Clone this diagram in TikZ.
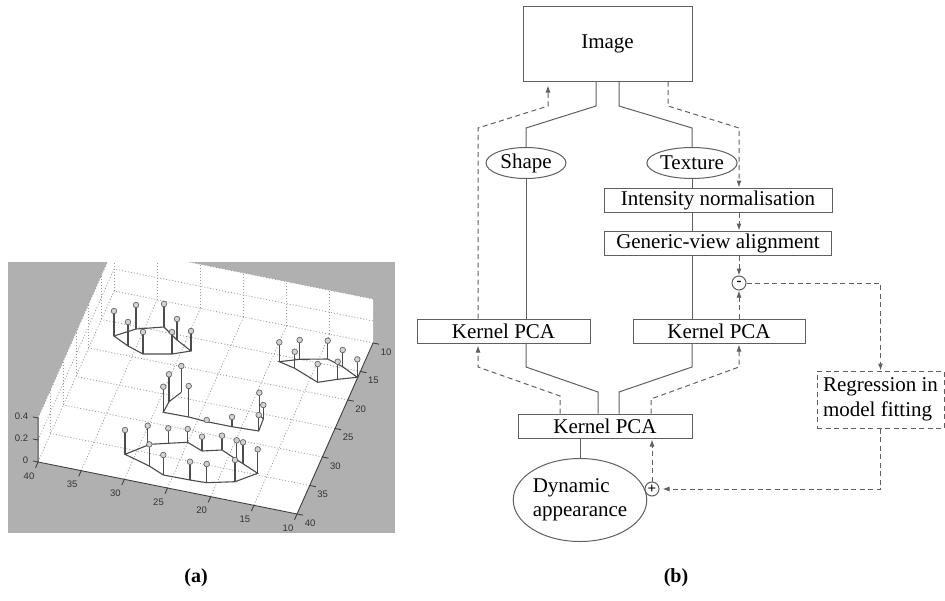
\documentclass[tikz,border=0pt]{standalone}
\usepackage{fontspec}
\setmainfont{Liberation Serif}
\setsansfont{Liberation Sans}
\usetikzlibrary{arrows.meta,positioning,shapes.geometric}

\definecolor{plotgray}{RGB}{176,176,176}
\definecolor{linegray}{RGB}{95,95,95}

\begin{document}
\begin{tikzpicture}[x=1pt, y=-1pt,
            >={Latex[length=7pt,width=5pt]},
            line width=1pt,
            font=\fontsize{21}{24.5}\selectfont,
            box/.style={draw=linegray, rectangle, inner sep=0pt},
            blob/.style={draw=linegray, ellipse, inner sep=0pt},
            sum/.style={draw=linegray, circle, minimum size=14pt, inner sep=0pt,
                        font=\fontsize{15}{15}\selectfont\bfseries},
            flow/.style={draw=linegray},
            fb/.style={draw=linegray, dash pattern=on 5pt off 3.5pt},
            grid3d/.style={draw=gray!80, line width=0.8pt, dash pattern=on 1pt off 2pt},
            axis/.style={draw=black!75, line width=0.9pt},
            floorline/.style={draw=black!70, line width=1.1pt},
            stem/.style={draw=black!70, line width=1.1pt},
            ball/.style={draw=black!60, fill=gray!35, line width=0.7pt},
            tick/.style={font=\sffamily\fontsize{9.5}{10}\selectfont, text=black!80, inner sep=0pt},
            caption/.style={font=\bfseries\fontsize{20}{22}\selectfont}]

    \useasboundingbox (0,0) rectangle (945,600);

    % (a) plot
    \fill[plotgray] (8,262) rectangle (395,533);
    \begin{scope}
        \clip (8,262) rectangle (395,533);
        \begin{scope}[shift={(484.7,303.3)},
                      x={(-8.633pt,1.733pt)}, y={(-2.533pt,-5.7pt)}, z={(0pt,110pt)}]
            \fill[white] (40,40,0) -- (10,40,0) -- (10,10,0) -- (10,10,0.4)
                         -- (40,10,0.4) -- (40,40,0.4) -- cycle;
            \foreach \v in {15,20,...,35} {
                \draw[grid3d] (\v,10,0) -- (\v,40,0);
                \draw[grid3d] (10,\v,0) -- (40,\v,0);
                \draw[grid3d] (\v,10,0) -- (\v,10,0.4);
                \draw[grid3d] (40,\v,0) -- (40,\v,0.4);
            }
            \draw[grid3d] (10,10,0) -- (40,10,0) -- (40,40,0);
            \draw[grid3d] (10,10,0.2) -- (40,10,0.2) -- (40,40,0.2);
            \draw[grid3d] (10,10,0.4) -- (40,10,0.4) -- (40,40,0.4);
            \draw[grid3d] (40,10,0) -- (40,10,0.4);

            \draw[axis] (40,40,0.4) -- (40,40,0) -- (10,40,0) -- (10,10,0);
            \foreach \v in {10,15,...,40} {
                \draw[axis] (\v,40,0) -- (\v,41,0);
                \node[tick] at (\v+0.3,42.55,0) {\v};
                \draw[axis] (10,\v,0) -- (9.3,\v,0);
                \node[tick] at (8.19,\v+1.03,0) {\v};
            }
            \foreach \z in {0,0.2,0.4} {
                \draw[axis] (40,40,\z) -- (40.6,40,\z);
                \node[tick, anchor=east] at (41.1,40,\z) {\z};
            }
        \end{scope}

        \draw[floorline] (114,336) -- (136,329) -- (164,327) -- (177,340) -- (191,351)
                         -- (172,354) -- (143,354) -- (128,346) -- cycle;
        \draw[floorline] (279.3,361.7) -- (299.7,359.3) -- (327.7,359) -- (342.7,366.7)
                         -- (357.3,377.3) -- (337.7,379.3) -- (317.7,382.3) -- (294.7,368.3) -- cycle;
        \draw[floorline] (181.3,392.3) -- (169,401.7) -- (163.3,412.3) -- (188.7,417) -- (206.7,421.7)
                         -- (232,426.7) -- (258.7,431) -- (263.3,419) -- (259.3,415);
        \draw[floorline] (125,454.3) -- (150,444.3) -- (168.3,443.3) -- (187.7,442.3) -- (202,451)
                         -- (222,450) -- (236.7,459.7) -- (243,463.7) -- (257.7,473.3)
                         -- (235,481.7) -- (206.7,482.7) -- (190,480) -- (163.3,475)
                         -- (149.3,466) -- cycle;

        \foreach \x/\t/\b in {114/311/336, 136/305/329, 164/304/327, 177/319/340,
                              191/331/351, 172/332/354, 143/332/354, 128/322/346,
                              279.3/342.3/361.7, 294.7/351.7/368.3, 299.7/340/359.3, 317.7/364/382.3,
                              327.7/340.7/359, 337.7/361.7/379.3, 342.7/350/366.7, 357.3/359.3/377.3,
                              163.3/386.7/412.3, 169/374.3/401.7, 181.3/366/392.3, 188.7/386/417,
                              206.7/420/421.7, 232/417/426.7, 259.3/392.7/415, 263.3/405/419,
                              258.7/415/431,
                              125/430/454.3, 147.7/425.7/444.3, 168.3/428.3/443.3, 187.7/429/442.3,
                              202/436.7/451, 222/435.7/450, 236.7/440.3/459.7, 243/442.3/463.7,
                              257.7/449.3/473.3, 149.3/444.3/466, 163.3/455/475, 190/461.7/480,
                              206.7/464/482.7, 235/460/481.7} {
            \draw[stem] (\x,\b) -- (\x,\t);
            \path[ball] (\x,\t) circle (2.8);
        }
    \end{scope}

    % (b) diagram
    \node[box, minimum width=169pt, minimum height=75pt] (image) at (607.5,43.5) {Image};
    \node[blob, minimum width=80pt, minimum height=31pt] (shape) at (526,163) {Shape};
    \node[blob, minimum width=84pt, minimum height=31pt] (texture) at (692,163) {Texture};
    \node[box, minimum width=228pt, minimum height=24pt] (norm) at (718,200) {Intensity normalisation};
    \node[box, minimum width=227pt, minimum height=24pt, below=18pt of norm] (align) {Generic-view alignment};
    \node[sum] (minus) at (739,283) {-};
    \node[box, minimum width=173pt, minimum height=24pt] (kpcaL) at (503.5,331) {Kernel PCA};
    \node[box, minimum width=172pt, minimum height=24pt, right=42pt of kpcaL] (kpcaR) {Kernel PCA};
    \node[box, minimum width=174pt, minimum height=24pt] (kpca) at (605,426) {Kernel PCA};
    \node[sum] (plus) at (652,489) {+};
    \node[blob, minimum width=122pt, minimum height=83pt, align=left] (dyn) at (580,500) {Dynamic\\appearance};
    \node[box, fb, minimum width=127pt, minimum height=57pt, align=left] (regr) at (880.5,399.5)
        {Regression in\\model fitting};

    \coordinate (s1) at (596,106);  \coordinate (s2) at (526,128);
    \coordinate (t1) at (619,106);  \coordinate (t2) at (692,128);
    \coordinate (l1) at (478,128);  \coordinate (l2) at (548,106);
    \coordinate (r1) at (668,106);  \coordinate (r2) at (739,128);
    \coordinate (m1) at (526,367);  \coordinate (m2) at (598,392);
    \coordinate (n1) at (692,367);  \coordinate (n2) at (619,392);
    \coordinate (p1) at (560,396);  \coordinate (p2) at (478,367);
    \coordinate (q1) at (651,399);  \coordinate (q2) at (739,367);

    % solid paths
    \draw[flow] (image.south -| s1) -- (s1) -- (s2) -- (shape);
    \draw[flow] (image.south -| t1) -- (t1) -- (t2) -- (texture);
    \draw[flow] (shape) -- (shape |- kpcaL.north);
    \draw[flow] (texture) -- (texture |- norm.north);
    \draw[flow] (texture |- norm.south) -- (texture |- align.north);
    \draw[flow] (texture |- align.south) -- (texture |- kpcaR.north);
    \draw[flow] (shape |- kpcaL.south) -- (m1) -- (m2) -- (kpca.north -| m2);
    \draw[flow] (texture |- kpcaR.south) -- (n1) -- (n2) -- (kpca.north -| n2);
    \draw[flow] (kpca.south -| dyn.north) -- (dyn.north);

    % dashed feedback
    \draw[fb, ->, shorten >=4pt] (kpcaL.north -| l1) -- (l1) -- (l2) -- (image.south -| l2);
    \draw[fb, ->] (image.south -| r1) -- (r1) -- (r2) -- (norm.north -| r2);
    \draw[fb, ->] (norm.south -| minus) -- (align.north -| minus);
    \draw[fb, ->] (align.south -| minus) -- (minus);
    \draw[fb, ->] (kpcaR.north -| minus) -- (minus);
    \draw[fb, ->] (minus) -| (regr);
    \draw[fb, ->, shorten >=2pt] (kpca.north -| p1) -- (p1) -- (p2) -- (kpcaL.south -| p2);
    \draw[fb, ->, shorten >=1pt] (kpca.north -| q1) -- (q1) -- (q2) -- (kpcaR.south -| q2);
    \draw[fb, ->, shorten >=1pt] (plus) -- (kpca.south -| plus);
    \draw[fb, ->, shorten >=3pt] (regr) |- (plus);

    \node[caption] (capA) at (196,578) {(a)};
    \node[caption] (capB) at (676,578) {(b)};
\end{tikzpicture}
\end{document}
